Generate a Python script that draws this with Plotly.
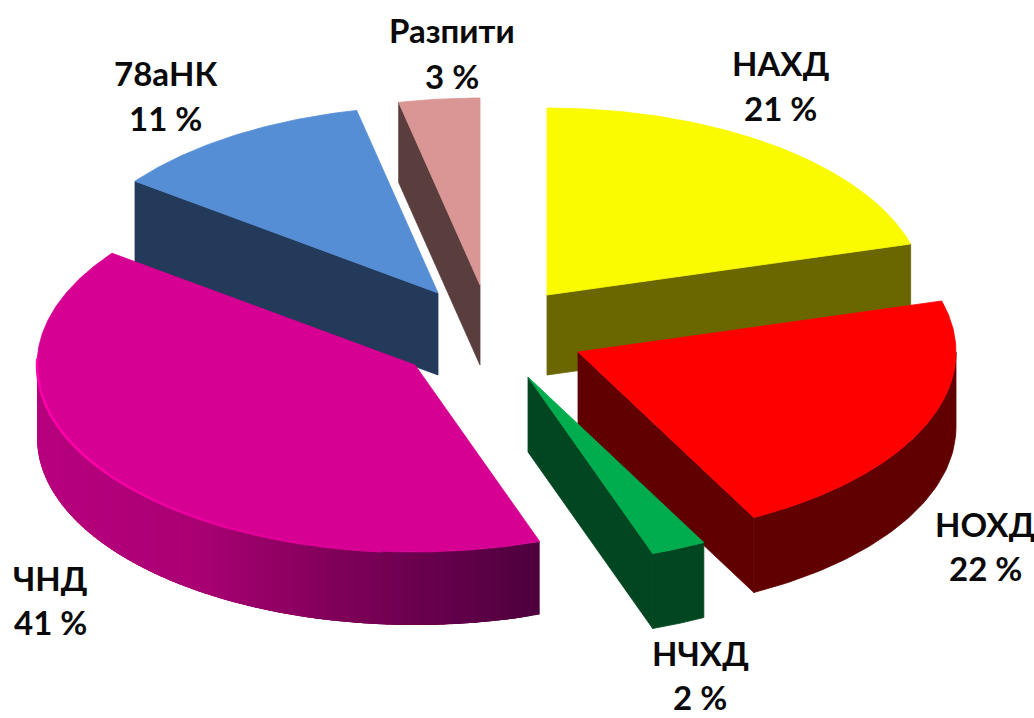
import numpy as np
import plotly.graph_objects as go

# --- data ---
CATEGORIES = ["НАХД", "НОХД", "НЧХД", "ЧНД", "78аНК", "Разпити"]
VALUES = [20.6, 21.7, 2.35, 40.55, 11.35, 3.45]

# --- styling / layout of the exploded 3D look ---
TOP = ["#FAFA00", "#FF0000", "#00AD4E", "#D60093", "#558ED5", "#D99694"]
WALL = ["#6B6700", "#600000", "#004620", "#5A0048", "#233A5A", "#5A3E3E"]
CENTER = (500, 320)
OFFSET_X = [47, 78, 28, -85, -62, -20]
OFFSET_Y = [-25, 32, 57, 45, -27, -35]
RX, RY = 378, 187
DEPTH = [80, 75, 75, 73, 82, 80]
DRAW_ORDER = [5, 4, 0, 3, 1, 2]
LABEL_X = [780, 985, 700, 50, 165, 452]
NAME_Y = [63, 524, 653, 578, 73, 30]
VALUE_Y = [108, 568, 697, 622, 118, 76]

W, H = 1034, 718
fig = go.Figure()


def poly(xs, ys, color, width=0.8):
    fig.add_trace(go.Scatter(
        x=list(xs), y=list(ys), mode="lines", fill="toself", fillcolor=color,
        line=dict(color=color, width=width), hoverinfo="skip", showlegend=False))


def mix(c1, c2, t):
    return "rgb(%d,%d,%d)" % tuple(round(a + (b - a) * t) for a, b in zip(c1, c2))


def magenta_rim(x):
    stops_x = [35, 200, 340, 450, 541]
    stops = [(184, 0, 126), (170, 0, 116), (128, 0, 88), (100, 0, 76), (78, 0, 60)]
    rs = [np.interp(x, stops_x, [s[k] for s in stops]) for k in range(3)]
    return "rgb(%d,%d,%d)" % tuple(round(v) for v in rs)


# slice angles come from the values
total = sum(VALUES)
edges = np.concatenate([[0], np.cumsum(VALUES)]) / total * 360.0


def px(ax, ay, theta):
    t = np.radians(theta)
    return ax + RX * np.sin(t), ay - RY * np.cos(t)


for i in DRAW_ORDER:
    a0, a1 = edges[i], edges[i + 1]
    ax, ay = CENTER[0] + OFFSET_X[i], CENTER[1] + OFFSET_Y[i]
    d = DEPTH[i]

    # radial walls
    if 180 < a0 < 360:
        ex, ey = px(ax, ay, a0)
        poly([ax, ex, ex, ax, ax], [ay, ey, ey + d, ay + d, ay], WALL[i])
    if 0 < a1 < 180:
        ex, ey = px(ax, ay, a1)
        poly([ax, ex, ex, ax, ax], [ay, ey, ey + d, ay + d, ay], WALL[i])

    # outer rim
    r0, r1 = max(a0, 90), min(a1, 270)
    if r1 > r0:
        if i == 3:  # shaded: overlapping strips, so no seams show
            steps = np.linspace(r0, r1, 90)
            for s in steps[:-1]:
                th = np.linspace(s, min(r1, s + 4), 6)
                xs, ys = px(ax, ay, th)
                poly(np.r_[xs, xs[::-1], xs[0]], np.r_[ys, ys[::-1] + d, ys[0]],
                     magenta_rim(xs[0]), width=0)
        else:
            th = np.linspace(r0, r1, 60)
            xs, ys = px(ax, ay, th)
            poly(np.r_[xs, xs[::-1], xs[0]], np.r_[ys, ys[::-1] + d, ys[0]], WALL[i])

    # top face
    th = np.linspace(a0, a1, max(4, int(a1 - a0) * 2))
    xs, ys = px(ax, ay, th)
    poly(np.r_[ax, xs, ax], np.r_[ay, ys, ay], TOP[i])

    # bevel highlight along the front of the magenta slice
    if i == 3:
        steps = np.linspace(185, 272, 40)
        for s0, s1 in zip(steps[:-1], steps[1:]):
            xs, ys = px(ax, ay, np.array([s0, s1]))
            t = (s0 - 185) / 87
            fig.add_trace(go.Scatter(
                x=xs, y=ys, mode="lines",
                line=dict(color=mix((214, 0, 147), (255, 0, 170), min(1, t * 1.6)), width=2.5),
                hoverinfo="skip", showlegend=False))

# labels
FONT = dict(family="Lato, 'Open Sans', sans-serif", size=33, color="#0a0a0a", weight="bold")
for name, v, lx, ny, vy in zip(CATEGORIES, VALUES, LABEL_X, NAME_Y, VALUE_Y):
    fig.add_annotation(x=lx, y=ny, xref="x", yref="y", showarrow=False, text=name, font=FONT)
    fig.add_annotation(x=lx, y=vy, xref="x", yref="y", showarrow=False, text=f"{v:.0f} %", font=FONT)

fig.update_layout(
    width=W, height=H, margin=dict(l=0, r=0, t=0, b=0),
    paper_bgcolor="white", plot_bgcolor="white", showlegend=False,
    xaxis=dict(range=[0, W], visible=False, fixedrange=True),
    yaxis=dict(range=[H, 0], visible=False, fixedrange=True),
)
fig.write_html("out.html", config={"displayModeBar": False},
               post_script="document.body.style.margin='0';document.body.style.overflow='hidden';")
